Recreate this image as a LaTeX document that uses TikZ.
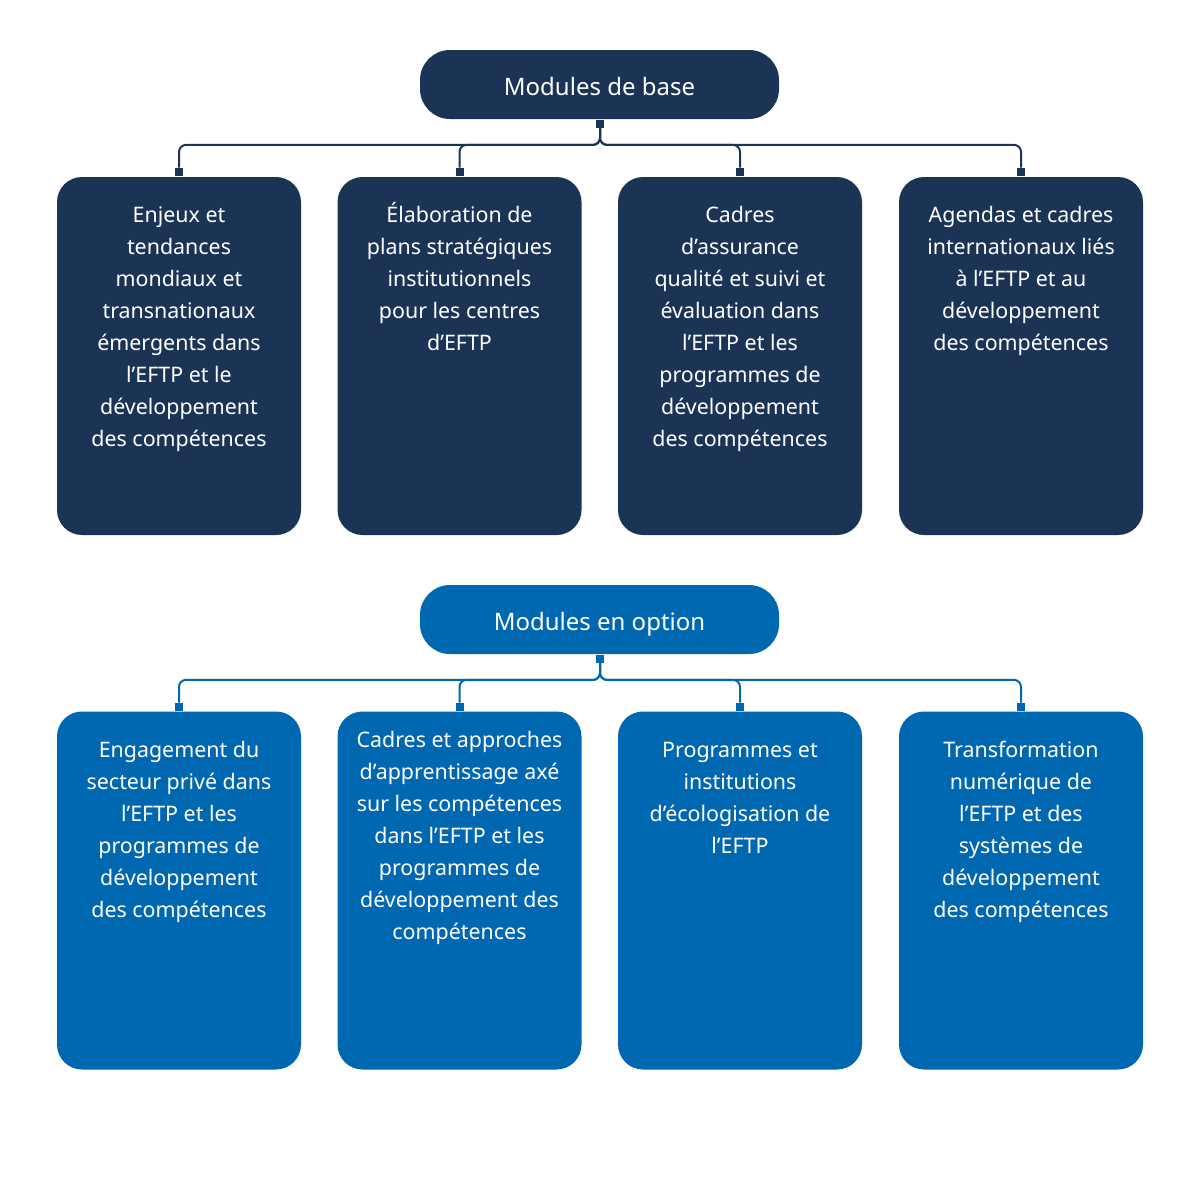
\documentclass[tikz,border=0pt]{standalone}
\usepackage{fontspec}
\setmainfont{Noto Sans}
\definecolor{navy}{RGB}{27,51,84}
\definecolor{ocean}{RGB}{0,103,177}

\tikzset{
  head/.style={rounded corners=15pt, minimum width=179.5pt, minimum height=34.5pt,
    inner sep=0pt, text=white, text height=11pt, text depth=0pt,
    font=\fontsize{12}{14}\selectfont},
  card/.style={rounded corners=12.5pt, minimum width=122pt, minimum height=179pt, inner sep=0pt},
  cardtext/.style={text=white, align=center, anchor=base, inner sep=0pt,
    font=\fontsize{10.7}{16}\selectfont},
  tab/.style={minimum size=4pt, inner sep=0pt},
  link/.style={line width=1pt, rounded corners=3.5pt}
}

\begin{document}
\begin{tikzpicture}[x=0.5pt,y=-0.5pt]
\useasboundingbox (0,0) rectangle (1200,1200);

% modules de base
\node[head, fill=navy] (base) at (599.5,84.5) {Modules de base};
\node[tab, fill=navy] (tb) at (600,123.5) {};
\foreach \x [count=\i] in {179,459.5,740,1021}{
  \node[card, fill=navy] (b\i) at (\x,356) {};
  \node[tab, fill=navy] (kb\i) at (\x,172) {};
  \draw[link, navy] (tb.south) -- ++(0,17) -| (kb\i.north);
}
% base = last line
\node[cardtext] (tb1) at (179,446) {Enjeux et\\tendances\\mondiaux et\\transnationaux\\émergents dans\\l’EFTP et le\\développement\\des compétences};
\node[cardtext] (tb2) at (459.5,350) {Élaboration de\\plans stratégiques\\institutionnels\\pour les centres\\d’EFTP};
\node[cardtext] (tb3) at (740,446) {Cadres\\d’assurance\\qualité et suivi et\\évaluation dans\\l’EFTP et les\\programmes de\\développement\\des compétences};
\node[cardtext] (tb4) at (1021,350) {Agendas et cadres\\internationaux liés\\à l’EFTP et au\\développement\\des compétences};

% modules en option
\node[head, fill=ocean] (opt) at (599.5,619.5) {Modules en option};
\node[tab, fill=ocean] (to) at (600,658.5) {};
\foreach \x [count=\i] in {179,459.5,740,1021}{
  \node[card, fill=ocean] (o\i) at (\x,890.5) {};
  \node[tab, fill=ocean] (ko\i) at (\x,707) {};
  \draw[link, ocean] (to.south) -- ++(0,17) -| (ko\i.north);
}
\node[cardtext] (to1) at (179,917) {Engagement du\\secteur privé dans\\l’EFTP et les\\programmes de\\développement\\des compétences};
\node[cardtext] (to2) at (459.5,939) {Cadres et approches\\d’apprentissage axé\\sur les compétences\\dans l’EFTP et les\\programmes de\\développement des\\compétences};
\node[cardtext] (to3) at (740,853) {Programmes et\\institutions\\d’écologisation de\\l’EFTP};
\node[cardtext] (to4) at (1021,917) {Transformation\\numérique de\\l’EFTP et des\\systèmes de\\développement\\des compétences};
\end{tikzpicture}
\end{document}
